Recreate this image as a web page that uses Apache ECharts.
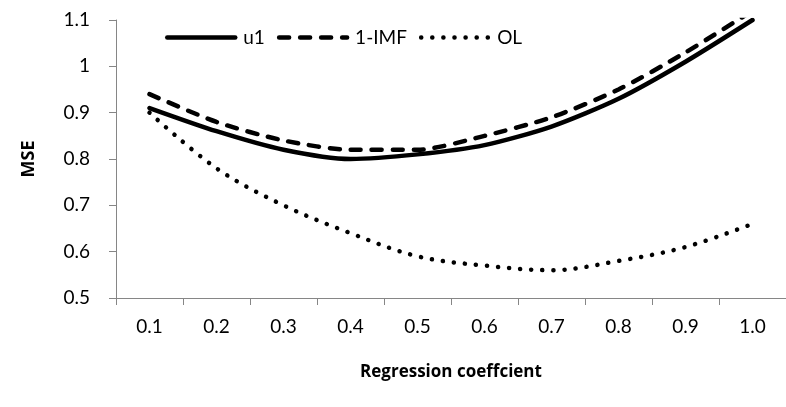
<!DOCTYPE html>
<html>
<head>
<meta charset="utf-8">
<style>
  html, body { margin: 0; padding: 0; background: #fff; }
  #chart { width: 786px; height: 407px; }
</style>
<script src="https://cdn.jsdelivr.net/npm/echarts@6/dist/echarts.min.js"></script>
</head>
<body>
<div id="chart"></div>
<script>
// regression coefficient categories
var coeffs = ['0.1', '0.2', '0.3', '0.4', '0.5', '0.6', '0.7', '0.8', '0.9', '1.0'];
// MSE per method
var u1 = [0.91, 0.86, 0.82, 0.80, 0.81, 0.83, 0.87, 0.93, 1.01, 1.10];
var imf = [0.94, 0.88, 0.84, 0.82, 0.82, 0.85, 0.89, 0.95, 1.03, 1.12];
var ol = [0.90, 0.78, 0.70, 0.64, 0.59, 0.57, 0.56, 0.58, 0.61, 0.66];

var font = 'Lato, "Open Sans", sans-serif';
var boldFont = '"Open Sans", sans-serif';
var axisGray = '#868686';

var solid = { color: '#000', width: 4.5, cap: 'round' };
var dashed = { color: '#000', width: 4.5, type: [10, 11], cap: 'round' };
var dotted = { color: '#000', width: 4.5, type: [0.1, 11], cap: 'round' };

var chart = echarts.init(document.getElementById('chart'));
chart.setOption({
    animation: false,
    backgroundColor: '#fff',
    textStyle: { fontFamily: font },
    legend: {
        left: 160,
        top: 23,
        itemWidth: 68,
        itemHeight: 14,
        itemGap: 12,
        itemStyle: { opacity: 0 },
        lineStyle: { width: 4.5, cap: 'round' },
        textStyle: { fontSize: 19, color: '#000', fontFamily: font, padding: [0, 0, 0, 3] },
        data: ['u1', '1-IMF', 'OL']
    },
    grid: { left: 116, top: 20, right: -8, bottom: 109 },
    xAxis: {
        type: 'category',
        data: coeffs,
        name: 'Regression coeffcient',
        nameLocation: 'middle',
        nameGap: 66,
        nameTextStyle: { fontSize: 17, fontWeight: 'bold', color: '#000', fontFamily: boldFont },
        axisLine: { lineStyle: { color: axisGray, width: 1 } },
        axisTick: { show: true, length: 7, lineStyle: { color: axisGray } },
        axisLabel: { fontSize: 19, color: '#000', margin: 19, fontFamily: font }
    },
    yAxis: {
        type: 'value',
        min: 0.5,
        max: 1.1,
        interval: 0.1,
        name: 'MSE',
        nameLocation: 'middle',
        nameGap: 78,
        nameTextStyle: { fontSize: 18, fontWeight: 'bold', color: '#000', fontFamily: boldFont },
        splitLine: { show: false },
        axisLine: { show: true, lineStyle: { color: axisGray, width: 1 } },
        axisTick: { show: true, length: 7, lineStyle: { color: axisGray } },
        axisLabel: {
            fontSize: 19, color: '#000', margin: 26, fontFamily: font,
            formatter: function (v) { return String(Math.round(v * 10) / 10); }
        }
    },
    series: [
        {
            name: 'u1', type: 'line', data: u1, smooth: 0.25,
            symbol: 'none', clip: true,
            lineStyle: solid, itemStyle: { color: '#000' }
        },
        {
            name: '1-IMF', type: 'line', data: imf, smooth: 0.25,
            symbol: 'none', clip: true,
            lineStyle: dashed, itemStyle: { color: '#000' }
        },
        {
            name: 'OL', type: 'line', data: ol, smooth: 0.35,
            symbol: 'none', clip: true,
            lineStyle: dotted, itemStyle: { color: '#000' }
        }
    ]
});
</script>
</body>
</html>
